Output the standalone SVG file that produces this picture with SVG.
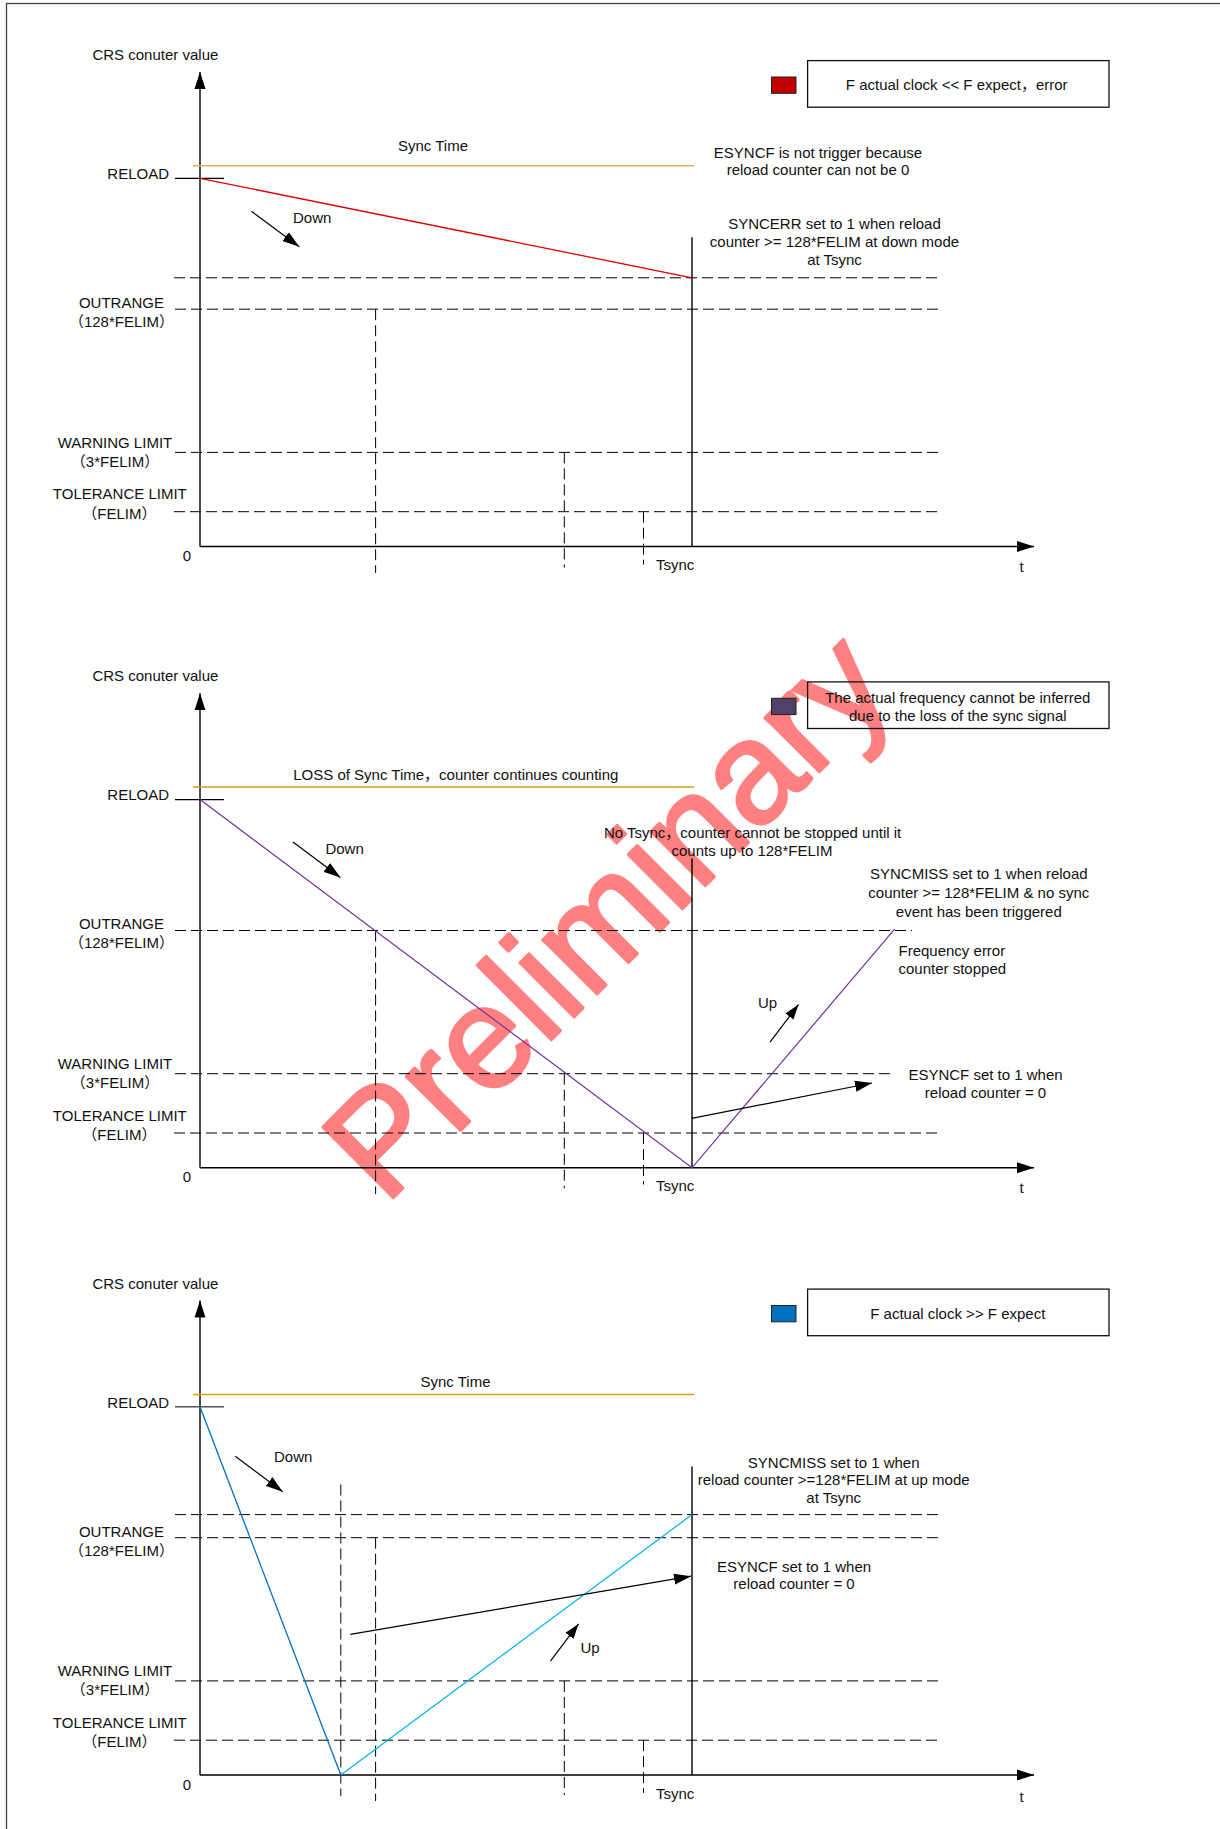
<svg xmlns="http://www.w3.org/2000/svg" width="1220" height="1829" viewBox="0 0 1220 1829">
<style>
text{font-family:"Liberation Sans","Noto Sans CJK SC",Arial,sans-serif;font-size:15px;fill:#111}
.m{text-anchor:middle}
.e{text-anchor:end}
.ax{stroke:#000;stroke-width:1.4;fill:none}
.dash{stroke:#000;stroke-width:1;stroke-dasharray:11 5;fill:none}
.thin{stroke:#000;stroke-width:1.2;fill:none}
.box{fill:none;stroke:#111;stroke-width:1.3}
.wm{font-size:145px;fill:#FF8080;stroke:#FF8080;stroke-width:3;stroke-linejoin:round}
</style>
<defs>
<marker id="ah" markerUnits="userSpaceOnUse" markerWidth="17" markerHeight="12" refX="17" refY="6" orient="auto"><path d="M0,0.5 L17,6 L0,11.5 z" fill="#000"/></marker>
<marker id="as" markerUnits="userSpaceOnUse" markerWidth="15" markerHeight="11" refX="15" refY="5.5" orient="auto"><path d="M0,0.5 L15,5.5 L0,10.5 z" fill="#000"/></marker>
</defs>
<rect x="0" y="0" width="1220" height="1829" fill="#fff"/>
<rect x="6.5" y="3.5" width="1400" height="1900" fill="none" stroke="#404040" stroke-width="1.3"/>

<g id="watermark">
<text class="wm" x="385" y="1206" transform="rotate(-45 385 1206)">Preliminary</text>
</g>

<g id="panel1">
<text class="m" x="155.4" y="60">CRS conuter value</text>
<line class="ax" x1="200" y1="546.5" x2="200" y2="72" marker-end="url(#ah)"/>
<line class="ax" x1="200" y1="546.5" x2="1034" y2="546.5" marker-end="url(#ah)"/>
<text class="m" x="187" y="560.6">0</text>
<text class="m" x="1021.5" y="572">t</text>
<text x="656" y="570.2">Tsync</text>
<line x1="193" y1="165.7" x2="694" y2="165.7" stroke="#D6B656" stroke-width="1.5"/>
<text class="m" x="433" y="151.2">Sync Time</text>
<text class="e" x="169" y="179">RELOAD</text>
<line class="thin" x1="175" y1="178.3" x2="224" y2="178.3"/>
<text class="m" x="121.4" y="308">OUTRANGE</text>
<text class="m" x="121.4" y="327.2">（128*FELIM）</text>
<text class="m" x="115" y="447.8">WARNING LIMIT</text>
<text class="m" x="115" y="466.9">（3*FELIM）</text>
<text class="m" x="119.8" y="499.4">TOLERANCE LIMIT</text>
<text class="m" x="119.4" y="518.6">（FELIM）</text>
<line class="dash" x1="174" y1="277.8" x2="938" y2="277.8"/>
<line class="dash" x1="175" y1="309.2" x2="938" y2="309.2"/>
<line class="dash" x1="175" y1="452.4" x2="938" y2="452.4"/>
<line class="dash" x1="174" y1="511.7" x2="938" y2="511.7"/>
<line class="dash" x1="375.6" y1="309.2" x2="375.6" y2="572.9"/>
<line class="dash" x1="564.3" y1="452.4" x2="564.3" y2="567.5"/>
<line class="dash" x1="643.5" y1="511.7" x2="643.5" y2="564.5"/>
<line class="ax" x1="692" y1="237.3" x2="692" y2="546.5"/>
<line x1="200" y1="178.3" x2="692" y2="277.8" stroke="#E00000" stroke-width="1.3"/>
<line class="thin" x1="251.5" y1="211.3" x2="299.3" y2="246.8" marker-end="url(#ah)"/>
<text x="293" y="223.1">Down</text>
<rect x="771.5" y="77" width="24.5" height="16.3" fill="#C00000" stroke="#222" stroke-width="1"/>
<rect class="box" x="807.6" y="60.6" width="301.4" height="46.6"/>
<text class="m" x="956.7" y="90">F actual clock &lt;&lt; F expect，error</text>
<text class="m" x="818" y="157.7">ESYNCF is not trigger because</text>
<text class="m" x="818" y="175.3">reload counter can not be 0</text>
<text class="m" x="834.5" y="228.5">SYNCERR set to 1 when reload</text>
<text class="m" x="834.5" y="246.8">counter &gt;= 128*FELIM at down mode</text>
<text class="m" x="834.5" y="264.8">at Tsync</text>
</g>

<g id="panel2" transform="translate(0,621.3)">
<text class="m" x="155.4" y="60">CRS conuter value</text>
<line class="ax" x1="200" y1="546.5" x2="200" y2="72" marker-end="url(#ah)"/>
<line class="ax" x1="200" y1="546.5" x2="1034" y2="546.5" marker-end="url(#ah)"/>
<text class="m" x="187" y="560.6">0</text>
<text class="m" x="1021.5" y="572">t</text>
<text x="656" y="570.2">Tsync</text>
<line x1="193" y1="165.7" x2="694" y2="165.7" stroke="#D4A017" stroke-width="1.5"/>
<text class="m" x="455.8" y="158.7">LOSS of Sync Time，counter continues counting</text>
<text class="e" x="169" y="179">RELOAD</text>
<line class="thin" x1="175" y1="178.3" x2="224" y2="178.3"/>
<text class="m" x="121.4" y="308">OUTRANGE</text>
<text class="m" x="121.4" y="327.2">（128*FELIM）</text>
<text class="m" x="115" y="447.8">WARNING LIMIT</text>
<text class="m" x="115" y="466.9">（3*FELIM）</text>
<text class="m" x="119.8" y="499.4">TOLERANCE LIMIT</text>
<text class="m" x="119.4" y="518.6">（FELIM）</text>
<line class="dash" x1="175" y1="309.2" x2="912" y2="309.2"/>
<line class="dash" x1="175" y1="452.4" x2="890.6" y2="452.4"/>
<line class="dash" x1="174" y1="511.7" x2="938" y2="511.7"/>
<line class="dash" x1="375.6" y1="309.2" x2="375.6" y2="572.7"/>
<line class="dash" x1="564.3" y1="452.4" x2="564.3" y2="567"/>
<line class="dash" x1="643.5" y1="511.7" x2="643.5" y2="563.2"/>
<line class="ax" x1="692" y1="237.3" x2="692" y2="546.5"/>
<polyline points="200,178.3 692,546.5 894.6,307.9" fill="none" stroke="#7030A0" stroke-width="1.2"/>
<line class="thin" x1="293" y1="220.7" x2="340.4" y2="256.3" marker-end="url(#ah)"/>
<text x="325.4" y="232.9">Down</text>
<line class="thin" x1="770" y1="420.8" x2="798.5" y2="383.3" marker-end="url(#as)"/>
<text x="758" y="386.4">Up</text>
<line class="thin" x1="691.7" y1="497" x2="872" y2="461.7" marker-end="url(#ah)"/>
<text class="m" x="985.5" y="458.7">ESYNCF set to 1 when</text>
<text class="m" x="985.5" y="476.7">reload counter = 0</text>
<text x="898.5" y="334.3">Frequency error</text>
<text x="898.5" y="352.3">counter stopped</text>
<text class="m" x="978.8" y="258.2">SYNCMISS set to 1 when reload</text>
<text class="m" x="978.8" y="276.5">counter &gt;= 128*FELIM &amp; no sync</text>
<text class="m" x="978.8" y="295.3">event has been triggered</text>
<text class="m" x="752.6" y="216.8">No Tsync，counter cannot be stopped until it</text>
<text class="m" x="752" y="235.2">counts up to 128*FELIM</text>
<rect x="771.5" y="77" width="24.5" height="16.3" fill="#514068" stroke="#222" stroke-width="1"/>
<rect class="box" x="807.6" y="60.6" width="301.4" height="46.6"/>
<text class="m" x="957.8" y="81.4">The actual frequency cannot be inferred</text>
<text class="m" x="957.8" y="99.3">due to the loss of the sync signal</text>
</g>

<g id="panel3" transform="translate(0,1228.5)">
<text class="m" x="155.4" y="60">CRS conuter value</text>
<line class="ax" x1="200" y1="546.5" x2="200" y2="72" marker-end="url(#ah)"/>
<line class="ax" x1="200" y1="546.5" x2="1034" y2="546.5" marker-end="url(#ah)"/>
<text class="m" x="187" y="561">0</text>
<text class="m" x="1021.5" y="573">t</text>
<text x="656" y="570.4">Tsync</text>
<line x1="193" y1="165.9" x2="694" y2="165.9" stroke="#D4A017" stroke-width="1.5"/>
<text class="m" x="455.5" y="158">Sync Time</text>
<text class="e" x="169" y="179">RELOAD</text>
<line x1="175" y1="178.3" x2="224" y2="178.3" stroke="#555" stroke-width="1.6"/>
<text class="m" x="121.4" y="308">OUTRANGE</text>
<text class="m" x="121.4" y="327.2">（128*FELIM）</text>
<text class="m" x="115" y="447.8">WARNING LIMIT</text>
<text class="m" x="115" y="466.9">（3*FELIM）</text>
<text class="m" x="119.8" y="499.4">TOLERANCE LIMIT</text>
<text class="m" x="119.4" y="518.6">（FELIM）</text>
<line class="dash" x1="175" y1="286.1" x2="940" y2="286.1"/>
<line class="dash" x1="175" y1="309.2" x2="938" y2="309.2"/>
<line class="dash" x1="175" y1="452.4" x2="938" y2="452.4"/>
<line class="dash" x1="174" y1="511.7" x2="938" y2="511.7"/>
<line class="dash" x1="340.8" y1="256" x2="340.8" y2="567.4"/>
<line class="dash" x1="375.6" y1="309.2" x2="375.6" y2="572.5"/>
<line class="dash" x1="564.3" y1="452.4" x2="564.3" y2="566.6"/>
<line class="dash" x1="643.5" y1="511.7" x2="643.5" y2="564.4"/>
<line class="ax" x1="692" y1="238" x2="692" y2="546.5"/>
<line x1="200" y1="178.3" x2="340.8" y2="546.5" stroke="#0070C0" stroke-width="1.3"/>
<line x1="340.8" y1="546.5" x2="692" y2="286.1" stroke="#00B0F0" stroke-width="1.2"/>
<line class="thin" x1="235.3" y1="227.8" x2="282.7" y2="263.2" marker-end="url(#ah)"/>
<text x="274" y="233.1">Down</text>
<line class="thin" x1="550.4" y1="432.6" x2="578.5" y2="395.4" marker-end="url(#as)"/>
<text x="580.5" y="424.7">Up</text>
<line class="thin" x1="350.3" y1="405.9" x2="691" y2="347.7" marker-end="url(#ah)"/>
<text class="m" x="833.7" y="239.1">SYNCMISS set to 1 when</text>
<text class="m" x="833.7" y="256.8">reload counter &gt;=128*FELIM at up mode</text>
<text class="m" x="833.7" y="274.8">at Tsync</text>
<text class="m" x="794" y="343.2">ESYNCF set to 1 when</text>
<text class="m" x="794" y="360.8">reload counter = 0</text>
<rect x="771.5" y="77" width="24.5" height="16.3" fill="#0070C0" stroke="#222" stroke-width="1"/>
<rect class="box" x="807.6" y="60.6" width="301.4" height="46.6"/>
<text class="m" x="957.8" y="90.4">F actual clock &gt;&gt; F expect</text>
</g>
</svg>
